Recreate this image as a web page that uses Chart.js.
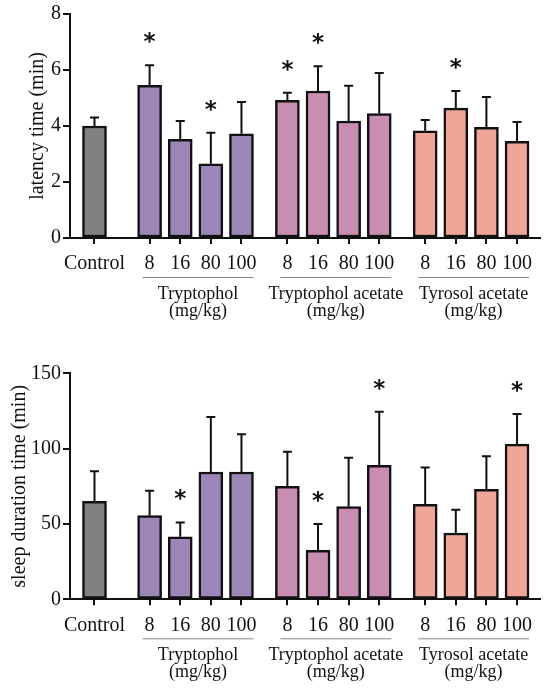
<!DOCTYPE html>
<html>
<head>
<meta charset="utf-8">
<script src="https://cdn.jsdelivr.net/npm/chart.js@4.4.1/dist/chart.umd.min.js"></script>
<style>
  html, body { margin: 0; padding: 0; background: #fff; }
  .panel { position: absolute; left: 0; width: 550px; height: 345px; }
</style>
</head>
<body>
<div class="panel" style="top:0"><canvas id="latency" width="550" height="345"></canvas></div>
<div class="panel" style="top:350px"><canvas id="sleep" width="550" height="345"></canvas></div>
<script>
// datos
const controlLabel = 'Control';
const doseLabels = ['8', '16', '80', '100'];
const groupNames = ['Tryptophol', 'Tryptophol acetate', 'Tyrosol acetate'];
const unitLabel = '(mg/kg)';

const latencyControl = [4.0];
const latencyControlErr = [0.3];
const latencyTryptophol = [5.45, 3.52, 2.65, 3.72];
const latencyTryptopholErr = [0.72, 0.66, 1.11, 1.14];
const latencyTryptopholAcetate = [4.92, 5.25, 4.18, 4.44];
const latencyTryptopholAcetateErr = [0.27, 0.88, 1.26, 1.45];
const latencyTyrosolAcetate = [3.83, 4.64, 3.95, 3.45];
const latencyTyrosolAcetateErr = [0.38, 0.61, 1.09, 0.69];
const latencySig = [[false], [true, false, true, false], [true, true, false, false], [false, true, false, false]];

const sleepControl = [65];
const sleepControlErr = [20];
const sleepTryptophol = [55.5, 41.5, 84.5, 84.5];
const sleepTryptopholErr = [16.5, 9.5, 36.5, 25];
const sleepTryptopholAcetate = [75, 32.5, 61.5, 89];
const sleepTryptopholAcetateErr = [23, 17.5, 32.5, 35.5];
const sleepTyrosolAcetate = [63, 44, 73, 103];
const sleepTyrosolAcetateErr = [24.5, 15.5, 22, 20];
const sleepSig = [[false], [false, true, false, false], [false, true, false, true], [false, false, false, true]];

const colors = ['#818181', '#9c86b8', '#c98db2', '#efa597'];
const serif = '"Liberation Serif", "Times New Roman", serif';

// separacion entre grupos (en anchos de barra)
const controlGap = 1.8;
const groupGap = 1.5;

let groupStarts = [];
let x = controlGap;
groupNames.forEach(() => {
  groupStarts.push(x);
  x += doseLabels.length - 1 + groupGap;
});
const tickPositions = [0].concat(...groupStarts.map(s => doseLabels.map((d, i) => s + i)));
const tickNames = [controlLabel].concat(...groupNames.map(() => doseLabels));

const errorBars = {
  id: 'errorBars',
  afterDatasetsDraw(chart) {
    const ctx = chart.ctx;
    const yScale = chart.scales.y;
    ctx.save();
    ctx.strokeStyle = '#111';
    ctx.lineWidth = 2;
    chart.data.datasets.forEach((ds, i) => {
      chart.getDatasetMeta(i).data.forEach((bar, j) => {
        const top = yScale.getPixelForValue(ds.data[j].y + ds.errs[j]);
        ctx.beginPath();
        ctx.moveTo(bar.x, bar.y);
        ctx.lineTo(bar.x, top);
        ctx.moveTo(bar.x - 4.5, top);
        ctx.lineTo(bar.x + 4.5, top);
        ctx.stroke();
        if (ds.sig[j]) {
          ctx.fillStyle = '#111';
          ctx.font = 'bold 23px "DejaVu Sans"';
          ctx.textAlign = 'center';
          ctx.textBaseline = 'middle';
          ctx.fillText('*', bar.x, top - 22);
        }
      });
    });
    ctx.restore();
  }
};

const groupLabels = {
  id: 'groupLabels',
  afterDraw(chart) {
    const ctx = chart.ctx;
    const xScale = chart.scales.x;
    const base = chart.chartArea.bottom;
    ctx.save();
    groupStarts.forEach((s, g) => {
      const x1 = xScale.getPixelForValue(s) - 7;
      const x2 = xScale.getPixelForValue(s + doseLabels.length - 1) + 12;
      ctx.strokeStyle = '#888';
      ctx.lineWidth = 1;
      ctx.beginPath();
      ctx.moveTo(x1, base + 39.5);
      ctx.lineTo(x2, base + 39.5);
      ctx.stroke();
      ctx.fillStyle = '#111';
      ctx.font = '18px ' + serif;
      ctx.textAlign = 'center';
      ctx.textBaseline = 'middle';
      const cx = (x1 + x2) / 2;
      ctx.fillText(groupNames[g], cx, base + 56);
      ctx.fillText(unitLabel, cx, base + 73);
    });
    ctx.restore();
  }
};

function makeDataset(values, errs, sig, color, start) {
  return {
    data: values.map((v, i) => ({ x: start + i, y: v })),
    errs: errs,
    sig: sig,
    backgroundColor: color,
    borderColor: '#111',
    borderWidth: 2.5,
    borderSkipped: false,
    barThickness: 24,
    grouped: false
  };
}

function buildChart(id, series, errs, sig, yMax, yStep, yTitle, padTop, xHeight, titlePad) {
  const starts = [0].concat(groupStarts);
  const datasets = series.map((s, i) => makeDataset(s, errs[i], sig[i], colors[i], starts[i]));
  return new Chart(document.getElementById(id), {
    type: 'bar',
    data: { datasets: datasets },
    options: {
      responsive: false,
      animation: false,
      layout: { padding: { top: padTop, right: 10, left: 0, bottom: 0 } },
      plugins: { legend: { display: false }, tooltip: { enabled: false } },
      scales: {
        x: {
          type: 'linear',
          offset: false,
          min: -0.8,
          max: 14.55,
          afterBuildTicks: (scale) => { scale.ticks = tickPositions.map(v => ({ value: v })); },
          afterFit: (scale) => { scale.height = xHeight; },
          ticks: {
            autoSkip: false,
            maxRotation: 0,
            padding: 8,
            color: '#111',
            font: { family: serif, size: 20 },
            callback: (v, i) => tickNames[i]
          },
          grid: { offset: false, drawOnChartArea: false, tickLength: 6, color: '#111', lineWidth: 2 },
          border: { color: '#111', width: 2 }
        },
        y: {
          min: 0,
          max: yMax,
          afterFit: (scale) => { scale.width = 70; },
          ticks: {
            stepSize: yStep,
            padding: 2,
            color: '#111',
            font: { family: serif, size: 20 }
          },
          grid: { drawOnChartArea: false, tickLength: 7, color: '#111', lineWidth: 2 },
          border: { color: '#111', width: 2 },
          title: {
            display: true,
            text: yTitle,
            color: '#111',
            font: { family: serif, size: 20 },
            padding: { top: titlePad, bottom: 0 }
          }
        }
      }
    },
    plugins: [errorBars, groupLabels]
  });
}

buildChart('latency',
  [latencyControl, latencyTryptophol, latencyTryptopholAcetate, latencyTyrosolAcetate],
  [latencyControlErr, latencyTryptopholErr, latencyTryptopholAcetateErr, latencyTyrosolAcetateErr],
  latencySig, 8, 2, 'latency time (min)', 13.5, 107, 26);

buildChart('sleep',
  [sleepControl, sleepTryptophol, sleepTryptopholAcetate, sleepTyrosolAcetate],
  [sleepControlErr, sleepTryptopholErr, sleepTryptopholAcetateErr, sleepTyrosolAcetateErr],
  sleepSig, 150, 50, 'sleep duration time (min)', 23.3, 95.7, 8);
</script>
</body>
</html>
